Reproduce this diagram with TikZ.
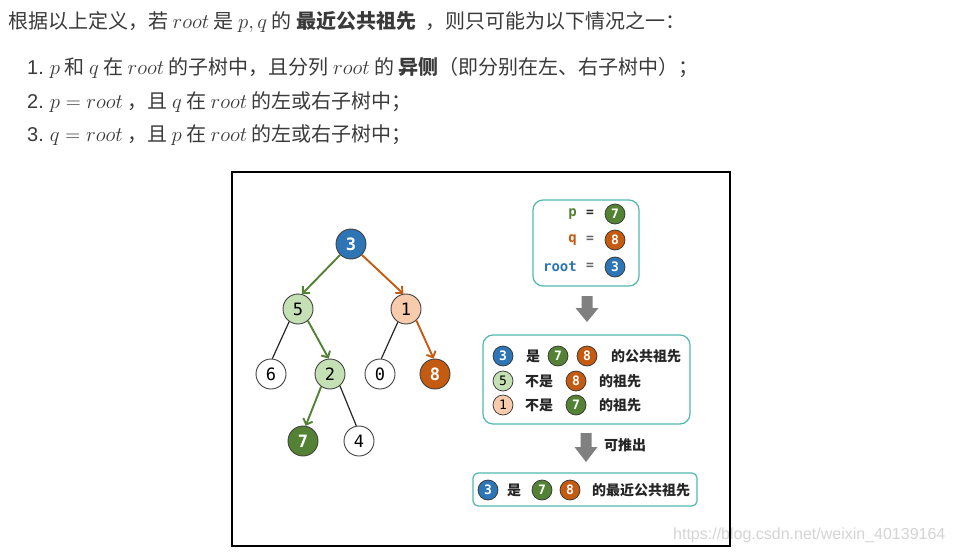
\documentclass[tikz,border=0pt]{standalone}
\usepackage[no-math]{fontspec}
\setmainfont{Noto Sans CJK SC}
\newfontfamily\latinfont{Liberation Sans}
\newfontfamily\monofont{DejaVu Sans Mono}
\usetikzlibrary{arrows.meta}

\definecolor{nblue}{HTML}{2E75B6}
\definecolor{ngreen}{HTML}{548235}
\definecolor{lgreen}{HTML}{C5E0B4}
\definecolor{norange}{HTML}{C55A11}
\definecolor{lpeach}{HTML}{F8CBAD}
\definecolor{boxteal}{HTML}{52B8AE}
\definecolor{bodygray}{HTML}{3A3A3A}

\begin{document}
\begin{tikzpicture}[
  x=1pt, y=-1pt,
  txt/.style={inner sep=0pt, text=bodygray, font=\fontsize{20}{24}\selectfont},
  tnode/.style={circle, draw=black!75, line width=0.9pt, minimum size=30pt, inner sep=0pt, fill=white, font=\monofont\fontsize{17}{17}\selectfont},
  hot/.style={text=white, font=\monofont\bfseries\fontsize{17}{17}\selectfont},
  snode/.style={circle, draw=black!80, line width=0.7pt, minimum size=20pt, inner sep=0pt, font=\monofont\fontsize{13}{13}\selectfont},
  shot/.style={text=white, font=\monofont\bfseries\fontsize{13}{13}\selectfont},
  lbl/.style={inner sep=0pt, anchor=east, font=\monofont\bfseries\fontsize{14}{14}\selectfont},
  cn/.style={inner sep=0pt, text=black!85, font=\bfseries\fontsize{14}{14}\selectfont},
  infobox/.style={draw=boxteal, line width=1.2pt, rounded corners=10pt},
  gpath/.style={draw=ngreen, line width=1.9pt, -{Straight Barb[length=5pt,width=10pt]}},
  opath/.style={draw=norange, line width=1.9pt, -{Straight Barb[length=5pt,width=10pt]}},
  edge/.style={draw=black!85, line width=1.2pt},
  blockarr/.style={fill=black!50}
]
\fill[white] (0,0) rectangle (954,554);
\useasboundingbox (0,0) rectangle (954,554);

% text above the figure
\node[txt, anchor=base west] (intro) at (8,28.5)
  {根据以上定义，若 $root$ 是 $p,q$ 的 \textbf{最近公共祖先} \ ，则只可能为以下情况之一：};
\node[txt, anchor=base west] (case1) at (27,74)
  {{\latinfont 1.} $p$ 和 $q$ 在 $root$ 的子树中，且分列 $root$ 的 \textbf{异侧}（即分别在左、右子树中）；};
\node[txt, anchor=base west] (case2) at (27,108)
  {{\latinfont 2.} $p = root$ ，且 $q$ 在 $root$ 的左或右子树中；};
\node[txt, anchor=base west] (case3) at (27,141.5)
  {{\latinfont 3.} $q = root$ ，且 $p$ 在 $root$ 的左或右子树中；};

\node[inner sep=0pt, anchor=west, text=black!17, font=\latinfont\fontsize{16}{16}\selectfont] (mark) at (673,535)
  {https://blog.csdn.net/weixin\_40139164};

% figure frame
\draw[line width=1.2pt] (232,172) rectangle (730,546);

% the tree
\node[tnode, hot, fill=nblue] (n3) at (351,244) {3};
\node[tnode, fill=lgreen] (n5) at (298,309) {5};
\node[tnode, fill=lpeach] (n1) at (406,309) {1};
\node[tnode] (n6) at (271,374) {6};
\node[tnode, fill=lgreen] (n2) at (330,374) {2};
\node[tnode] (n0) at (380,374) {0};
\node[tnode, hot, fill=norange] (n8) at (435,374) {8};
\node[tnode, hot, fill=ngreen] (n7) at (303,441) {7};
\node[tnode] (n4) at (359,441) {4};

\draw[gpath] (n3.225) -- (n5.75);
\draw[opath] (n3.-45) -- (n1.100);
\draw[gpath] (n5.-50) -- (n2.95);
\draw[opath] (n1.-48) -- (n8.95);
\draw[gpath] (n2.235) -- (n7.80);
\draw[edge] (n5.235) -- (n6.85);
\draw[edge] (n1.238) -- (n0.85);
\draw[edge] (n2.-50) -- (n4.100);

% given values
\node[infobox, minimum width=106pt, minimum height=86pt] (given) at (586,243) {};
\node[lbl, text=ngreen] (pl) at (577,214) {p};
\node[lbl, text=norange] (ql) at (577,240) {q};
\node[lbl, text=nblue] (rl) at (577,267) {root};
\node[cn, font=\monofont\bfseries\fontsize{13}{13}\selectfont] (eq1) at (590,213) {=};
\node[cn, font=\monofont\bfseries\fontsize{13}{13}\selectfont, text=black!60] (eq2) at (590,239) {=};
\node[cn, font=\monofont\bfseries\fontsize{13}{13}\selectfont, text=black!60] (eq3) at (590,266) {=};
\node[snode, shot, fill=ngreen] (gp) at (615,214) {7};
\node[snode, shot, fill=norange] (gq) at (615,240) {8};
\node[snode, shot, fill=nblue] (gr) at (615,267) {3};

\fill[blockarr] (587,296) ++(-5.5,0) -- ++(11,0) -- ++(0,12) -- ++(6,0)
  -- ++(-11.5,14) -- ++(-11.5,-14) -- ++(6,0) -- cycle;

% facts
\node[infobox, minimum width=207pt, minimum height=89pt] (facts) at (586.5,379.5) {};
\node[snode, shot, fill=nblue] (fa3) at (503,356) {3};
\node[cn] (fa1) at (533,356) {是};
\node[snode, shot, fill=ngreen] (fa7) at (558,356) {7};
\node[snode, shot, fill=norange] (fa8) at (587,356) {8};
\node[cn, anchor=west] (fa2) at (611,356) {的公共祖先};
\node[snode, fill=lgreen] (fb5) at (503,381) {5};
\node[cn] (fb1) at (539,381) {不是};
\node[snode, shot, fill=norange] (fb8) at (576,381) {8};
\node[cn, anchor=west] (fb2) at (599,381) {的祖先};
\node[snode, fill=lpeach] (fc1) at (503,405) {1};
\node[cn] (fc2) at (539,405) {不是};
\node[snode, shot, fill=ngreen] (fc7) at (576,405) {7};
\node[cn, anchor=west] (fc3) at (599,405) {的祖先};

\fill[blockarr] (586,433) ++(-5.5,0) -- ++(11,0) -- ++(0,14) -- ++(6,0)
  -- ++(-11.5,15) -- ++(-11.5,-15) -- ++(6,0) -- cycle;
\node[cn, anchor=west] (infer) at (604,445) {可推出};

% conclusion
\node[infobox, rounded corners=5pt, minimum width=224pt, minimum height=33pt] (result) at (585,489.5) {};
\node[snode, shot, fill=nblue] (ra3) at (488,490) {3};
\node[cn] (ra1) at (514,490) {是};
\node[snode, shot, fill=ngreen] (ra7) at (542,490) {7};
\node[snode, shot, fill=norange] (ra8) at (570,490) {8};
\node[cn, anchor=west] (ra2) at (592,490) {的最近公共祖先};

\end{tikzpicture}
\end{document}
